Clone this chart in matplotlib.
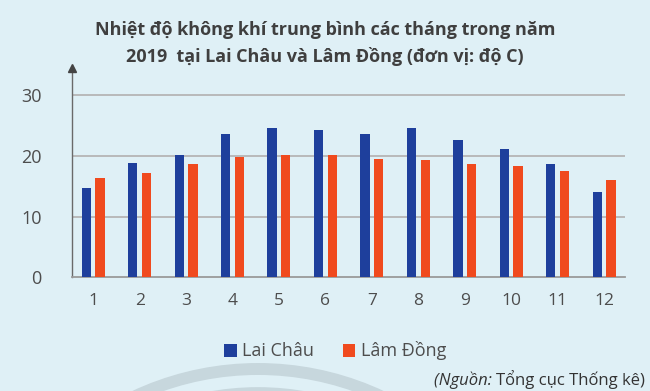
import numpy as np
import matplotlib.pyplot as plt
from matplotlib.patches import Circle

# dữ liệu
months = ['1', '2', '3', '4', '5', '6', '7', '8', '9', '10', '11', '12']
lai_chau = [14.8, 18.8, 20.1, 23.6, 24.6, 24.2, 23.6, 24.6, 22.7, 21.1, 18.6, 14.1]
lam_dong = [16.4, 17.2, 18.6, 19.8, 20.1, 20.1, 19.5, 19.3, 18.6, 18.4, 17.5, 16.0]
yticks = [0, 10, 20, 30]

BG = '#dff0f6'
BLUE = '#1e3f9c'
ORANGE = '#f04a1e'
TXT = '#4d4d4d'

plt.rcParams['font.family'] = ['Open Sans', 'DejaVu Sans']

fig = plt.figure(figsize=(6.5, 3.91), dpi=100, facecolor=BG)

# vòng tròn mờ trang trí ở nền (toạ độ inch)
for r, lw in [(2.91, 8.6), (2.68, 7.0)]:
    c = Circle((2.58, -2.69), r, transform=fig.dpi_scale_trans,
               fill=False, lw=lw, ec='#c7d7dd', zorder=0)
    fig.patches.append(c)

ax = fig.add_axes([72 / 650, 113.7 / 391, 553 / 650, 209.3 / 391])
ax.set_facecolor('none')

x = np.arange(1, len(months) + 1)
w = 0.2
off = 0.148
ax.bar(x - off, lai_chau, width=w, color=BLUE, zorder=3, label='Lai Châu')
ax.bar(x + off, lam_dong, width=w, color=ORANGE, zorder=3, label='Lâm Đồng')

ax.set_xlim(0.544, 12.45)
ax.set_ylim(0, 34.5)
ax.set_yticks(yticks)
ax.set_yticklabels([str(v) for v in yticks], fontsize=13, color=TXT)
ax.set_xticks(x)
ax.set_xticklabels(months, fontsize=12.5, color=TXT)
ax.tick_params(axis='both', length=0)
ax.tick_params(axis='y', pad=22)
ax.tick_params(axis='x', pad=11)

for v in yticks[1:]:
    ax.axhline(v, color='#b5b5b5', lw=1.3, zorder=1)

for s in ['top', 'right']:
    ax.spines[s].set_visible(False)
ax.spines['bottom'].set_color('#9a9a9a')
ax.spines['bottom'].set_linewidth(1.3)
ax.spines['left'].set_color('#6a6a6a')
ax.spines['left'].set_linewidth(1.0)
ax.plot(0, 1, marker='^', color='#444444', markersize=6,
        transform=ax.transAxes, clip_on=False, zorder=4)

fig.text(0.5, 1 - 30 / 391, 'Nhiệt độ không khí trung bình các tháng trong năm',
         ha='center', va='center', fontsize=13, fontweight='bold', color='#3f3f3f')
fig.text(0.5, 1 - 57 / 391, '2019  tại Lai Châu và Lâm Đồng (đơn vị: độ C)',
         ha='center', va='center', fontsize=13, fontweight='bold', color='#3f3f3f')

leg = fig.legend(loc='center', bbox_to_anchor=(335 / 650, 1 - 351 / 391), ncol=2,
                 frameon=False, fontsize=13, handlelength=0.7, handleheight=0.7,
                 handletextpad=0.3, columnspacing=1.6, labelcolor=TXT)

# nguồn: phần in nghiêng đặt ngay bên trái phần chữ thường
src = fig.text(645 / 650, 1 - 380 / 391, 'Tổng cục Thống kê)',
               ha='right', va='center', fontsize=12, color='#333333')
fig.canvas.draw()
bb = src.get_window_extent().transformed(fig.transFigure.inverted())
fig.text(bb.x0, 1 - 380 / 391, '(Nguồn: ', ha='right', va='center',
         fontsize=12, color='#333333', style='italic')

fig.savefig('out.png', dpi=100, facecolor=BG)
